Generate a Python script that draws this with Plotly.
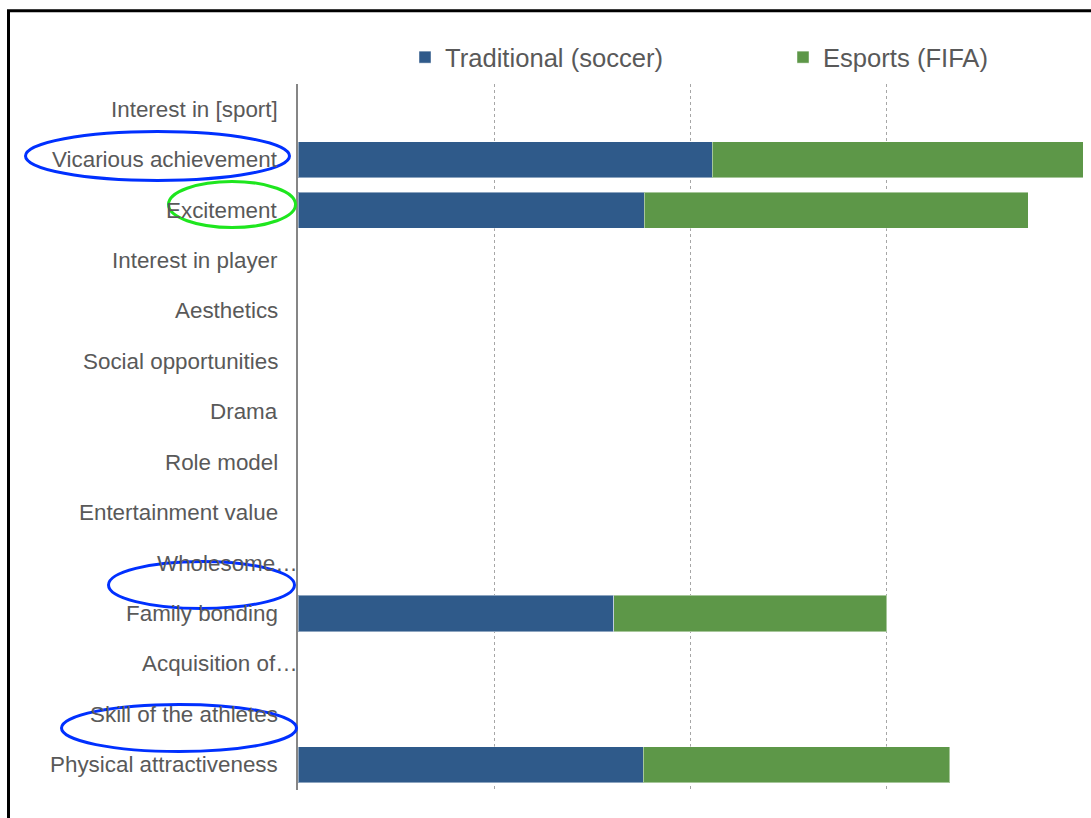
import plotly.graph_objects as go

# Motivation factors, listed top to bottom
categories = [
    "Interest in [sport]",
    "Vicarious achievement",
    "Excitement",
    "Interest in player",
    "Aesthetics",
    "Social opportunities",
    "Drama",
    "Role model",
    "Entertainment value",
    "Wholesome…",
    "Family bonding",
    "Acquisition of…",
    "Skill of the athletes",
    "Physical attractiveness",
]

traditional_soccer = [None, 2.11, 1.765, None, None, None, None, None, None, None, 1.61, None, None, 1.76]
esports_fifa = [None, 1.89, 1.955, None, None, None, None, None, None, None, 1.39, None, None, 1.56]

series_names = ["Traditional (soccer)", "Esports (FIFA)"]
series_colors = ["#2F5A8A", "#5D9748"]

W, H = 1091, 818
M_L, M_R, M_T, M_B = 298, 8, 84, 28
PLOT_W = W - M_L - M_R
PLOT_H = H - M_T - M_B
TEXT_GRAY = "#595959"
FONT = "Liberation Sans, Arial, sans-serif"


def px_to_paper_x(px):
    return (px - M_L) / PLOT_W


def px_to_paper_y(py):
    return (H - M_B - py) / PLOT_H


fig = go.Figure()
for name, vals, color in zip(series_names, [traditional_soccer, esports_fifa], series_colors):
    fig.add_trace(go.Bar(
        y=categories,
        x=vals,
        name=name,
        orientation="h",
        width=0.715,
        marker=dict(color=color, line=dict(color="rgba(255,255,255,0.45)", width=1)),
    ))

# Category labels, right-aligned beside the axis; truncated labels run up to the axis line
annotations = []
for cat in categories:
    truncated = cat.endswith("…")
    annotations.append(dict(
        xref="paper", yref="y", x=0, y=cat,
        xanchor="right", yanchor="middle",
        xshift=2 if truncated else -18,
        text=cat, showarrow=False,
        font=dict(family=FONT, size=22.4, color=TEXT_GRAY),
    ))

# Hand-drawn highlight ellipses (pixel extents converted to paper space)
highlights = [
    (25.5, 131.5, 289.5, 180.5, "#0030FF"),
    (168.5, 181.5, 295.5, 227.5, "#1EE61E"),
    (108.5, 561.5, 294.5, 608.5, "#0030FF"),
    (61.5, 704.5, 296.5, 751.5, "#0030FF"),
]
shapes = []
for x0, y0, x1, y1, col in highlights:
    shapes.append(dict(
        type="circle", xref="paper", yref="paper",
        x0=px_to_paper_x(x0), x1=px_to_paper_x(x1),
        y0=px_to_paper_y(y1), y1=px_to_paper_y(y0),
        line=dict(color=col, width=3), layer="above",
    ))

# Outer frame (right and bottom edges fall outside the page)
shapes.append(dict(
    type="rect", xref="paper", yref="paper",
    x0=px_to_paper_x(8.5), x1=px_to_paper_x(W + 20),
    y0=px_to_paper_y(H + 20), y1=px_to_paper_y(10.7),
    line=dict(color="black", width=3), layer="above",
))

fig.update_layout(
    width=W, height=H,
    margin=dict(l=M_L, r=M_R, t=M_T, b=M_B, autoexpand=False),
    barmode="stack",
    bargap=0.285,
    plot_bgcolor="white",
    paper_bgcolor="white",
    font=dict(family=FONT, color=TEXT_GRAY),
    showlegend=True,
    legend=dict(
        orientation="h",
        x=px_to_paper_x(405), y=px_to_paper_y(57.5),
        xanchor="left", yanchor="middle",
        font=dict(family=FONT, size=25.6, color=TEXT_GRAY),
        entrywidth=333, entrywidthmode="pixels",
        traceorder="normal",
        bgcolor="rgba(0,0,0,0)",
    ),
    xaxis=dict(
        range=[0, 4], dtick=1, tick0=0,
        showticklabels=False, ticks="",
        showgrid=True, gridcolor="#A6A6A6", griddash="dot", gridwidth=1,
        zeroline=False, showline=False, fixedrange=True,
    ),
    yaxis=dict(
        categoryorder="array", categoryarray=categories,
        autorange="reversed",
        showticklabels=False, ticks="",
        showgrid=False, zeroline=False,
        showline=True, linecolor="#868686", linewidth=2,
        fixedrange=True,
    ),
    annotations=annotations,
    shapes=shapes,
)

fig.write_html("out.html")
